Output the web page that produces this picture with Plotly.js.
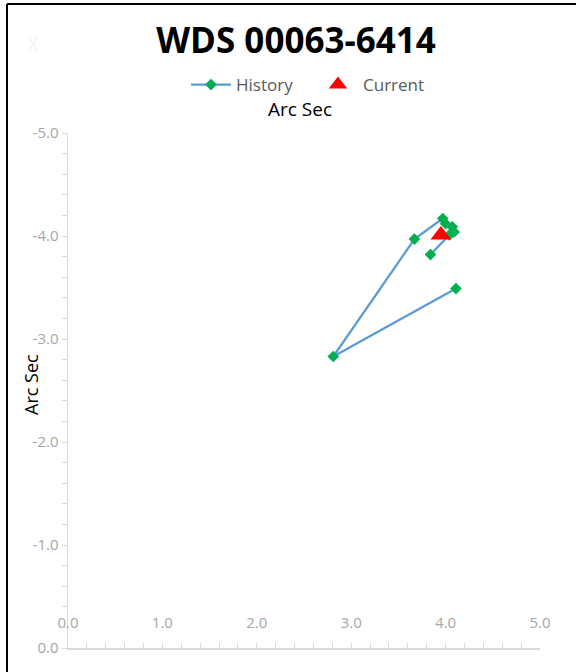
<!DOCTYPE html>
<html>
<head>
<meta charset="utf-8">
<script src="https://cdn.plot.ly/plotly-3.0.1.min.js"></script>
<style>html,body{margin:0;padding:0;background:#fff}#chart{width:576px;height:672px}</style>
</head>
<body>
<div id="chart"></div>
<script>
// History measurements (Arc Sec)
const historyX = [4.11, 2.81, 3.67, 3.97, 4.00, 4.07, 4.09, 4.04, 3.84];
const historyY = [-3.49, -2.83, -3.97, -4.17, -4.12, -4.09, -4.04, -4.01, -3.82];
// Current position
const currentX = [3.95];
const currentY = [-4.01];

const tickVals = [0, 1, 2, 3, 4, 5];
const xTickText = ["0.0", "1.0", "2.0", "3.0", "4.0", "5.0"];
const yTickVals = [0, -1, -2, -3, -4, -5];
const yTickText = ["0.0", "-1.0", "-2.0", "-3.0", "-4.0", "-5.0"];

const traces = [
  {
    x: historyX, y: historyY, name: "History", type: "scatter", mode: "lines+markers",
    line: {color: "#5b9bd5", width: 2.25},
    marker: {symbol: "diamond", color: "#00b050", size: 9}
  },
  {
    x: currentX, y: currentY, name: "Current", type: "scatter", mode: "markers",
    marker: {symbol: "triangle-up", color: "#ff0000", size: 18}
  }
];

const axisGray = "#d9d9d9";
const labelGray = "#a6a6a6";

const layout = {
  width: 576, height: 672,
  margin: {l: 68, r: 36, t: 133, b: 24},
  paper_bgcolor: "#fff", plot_bgcolor: "#fff",
  font: {family: "Open Sans, sans-serif"},
  title: {text: "<b>WDS 00063-6414</b>", font: {size: 35, color: "#000", family: "Open Sans, sans-serif"},
          x: 296/576, xanchor: "center", xref: "container", y: 1 - 41/672, yanchor: "middle", yref: "container"},
  showlegend: true,
  legend: {orientation: "h", xref: "container", yref: "container", x: 186/576, xanchor: "left",
           y: 1 - 85/672, yanchor: "middle", font: {size: 17, color: "#595959"}, itemwidth: 40,
           entrywidth: 72, bgcolor: "rgba(0,0,0,0)"},
  xaxis: {
    range: [0, 5], tickvals: tickVals, ticktext: xTickText,
    showgrid: false, zeroline: false, showline: true, linecolor: axisGray, linewidth: 1.5,
    ticks: "inside", ticklen: 5, tickcolor: axisGray, ticklabelstandoff: -40,
    tickfont: {size: 15, color: labelGray},
    minor: {dtick: 0.2, ticks: "inside", ticklen: 5, tickcolor: axisGray, showgrid: false}
  },
  yaxis: {
    range: [0, -5], tickvals: yTickVals, ticktext: yTickText,
    showgrid: false, zeroline: false, showline: true, linecolor: axisGray, linewidth: 1.5,
    ticks: "outside", ticklen: 5, tickcolor: axisGray,
    tickfont: {size: 15, color: labelGray},
    minor: {dtick: 0.2, ticks: "outside", ticklen: 5, tickcolor: axisGray, showgrid: false}
  },
  annotations: [
    {text: "Arc Sec", xref: "paper", yref: "paper", x: (300-68)/472, y: (648-109)/515, xanchor: "center", yanchor: "middle",
     showarrow: false, font: {size: 19, color: "#000"}},
    {text: "Arc Sec", xref: "paper", yref: "paper", x: (31-68)/472, y: (648-385)/515, xanchor: "center", yanchor: "middle",
     textangle: -90, showarrow: false, font: {size: 18, color: "#000"}},
    {text: "X", xref: "paper", yref: "paper", x: (33-68)/472, y: (648-44)/515, xanchor: "center", yanchor: "middle",
     showarrow: false, font: {size: 18, color: "#f2f2f2"}}
  ],
  shapes: [
    {type: "line", xref: "paper", yref: "paper", x0: (7-68)/472, x1: (7-68)/472, y0: (648-4)/515, y1: (648-680)/515,
     line: {color: "#000", width: 2}},
    {type: "line", xref: "paper", yref: "paper", x0: (7-68)/472, x1: (580-68)/472, y0: (648-4)/515, y1: (648-4)/515,
     line: {color: "#000", width: 2}}
  ]
};

Plotly.newPlot("chart", traces, layout, {displayModeBar: false, staticPlot: true});
</script>
</body>
</html>
